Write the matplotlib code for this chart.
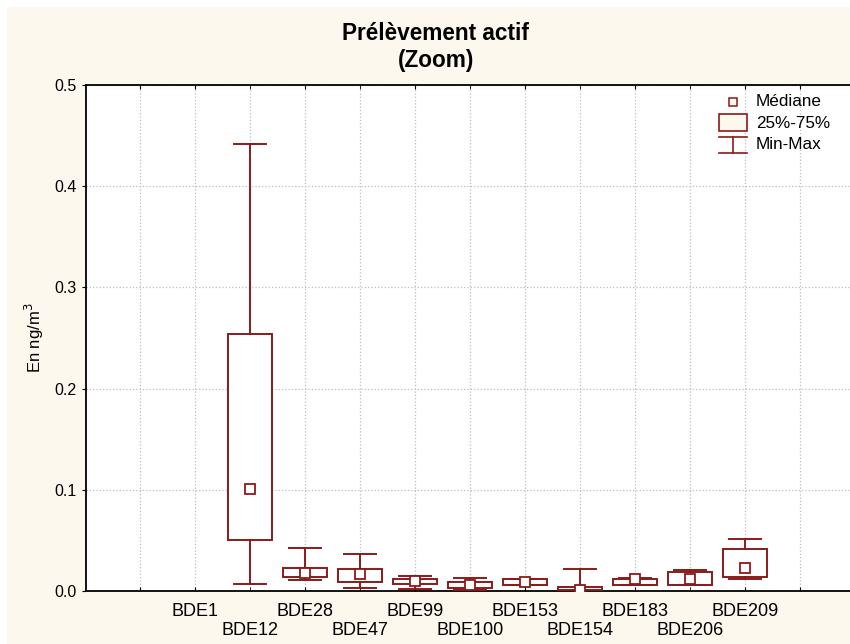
import matplotlib
matplotlib.use("Agg")
import matplotlib.pyplot as plt
from matplotlib.patches import Rectangle
from matplotlib.lines import Line2D

plt.rcParams['font.family'] = ['Liberation Sans', 'DejaVu Sans']

# congeneres et statistiques (ng/m3)
congeneres = ['BDE1', 'BDE12', 'BDE28', 'BDE47', 'BDE99', 'BDE100',
              'BDE153', 'BDE154', 'BDE183', 'BDE206', 'BDE209']
mediane = [None, 0.101, 0.018, 0.017, 0.0099, 0.0062, 0.0086, 0.0010, 0.0120, 0.0119, 0.023]
q25 = [None, 0.050, 0.0142, 0.0092, 0.0066, 0.0033, 0.0056, 0.0007, 0.0056, 0.0056, 0.0142]
q75 = [None, 0.254, 0.0224, 0.0220, 0.0119, 0.0092, 0.0115, 0.0043, 0.0115, 0.0184, 0.0418]
mini = [None, 0.007, 0.0105, 0.0033, 0.0020, 0.0010, 0.0056, 0.0000, 0.0056, 0.0056, 0.0115]
maxi = [None, 0.442, 0.0428, 0.0370, 0.0148, 0.0125, 0.0115, 0.0217, 0.0125, 0.0207, 0.0517]

rouge = '#8b1a1a'
creme = '#fdf8ee'

W, H = 850, 644
fig = plt.figure(figsize=(W / 100, H / 100), dpi=100)
fig.patch.set_facecolor('white')
fig.patches.append(Rectangle((7 / W, 0), 1, 1 - 7 / H, transform=fig.transFigure,
                             facecolor=creme, edgecolor='none', zorder=-10))

ax = fig.add_axes([86 / W, (H - 591) / H, (W - 86) / W, (591 - 85) / H])
ax.set_facecolor('white')

pos = list(range(1, len(congeneres) + 1))
stats, pos_ok = [], []
for p, me, a, b, lo, hi in zip(pos, mediane, q25, q75, mini, maxi):
    if me is None:
        continue
    stats.append(dict(med=me, q1=a, q3=b, whislo=lo, whishi=hi))
    pos_ok.append(p)

ax.bxp(stats, positions=pos_ok, widths=0.8, capwidths=0.57, showfliers=False,
       patch_artist=True,
       boxprops=dict(facecolor='white', edgecolor=rouge, linewidth=1.4),
       whiskerprops=dict(color=rouge, linewidth=1.4),
       capprops=dict(color=rouge, linewidth=1.4),
       medianprops=dict(visible=False), zorder=3)
ax.plot(pos_ok, [s['med'] for s in stats], 's', ms=7, mfc='white', mec=rouge,
        mew=1.3, zorder=4, linestyle='none')

ax.set_xlim(-0.98, 12.91)
ax.set_ylim(0, 0.5)
ax.set_yticks([0, 0.1, 0.2, 0.3, 0.4, 0.5])
ax.set_yticklabels(['0.0', '0.1', '0.2', '0.3', '0.4', '0.5'], fontsize=11.5)

# etiquettes sur deux rangees : impaires en haut, paires en bas
haut = [0] + pos[0::2] + [12]
bas = pos[1::2]
ax.set_xticks(haut)
ax.set_xticklabels([''] + congeneres[0::2] + [''], fontsize=13)
ax.set_xticks(bas, minor=True)
ax.set_xticklabels(congeneres[1::2], minor=True, fontsize=13)
ax.tick_params(axis='x', which='both', direction='in', length=3, top=True)
ax.tick_params(axis='x', which='major', pad=9)
ax.tick_params(axis='x', which='minor', pad=22)
ax.tick_params(axis='y', direction='out', length=3, pad=4)
ax.grid(True, which='both', color='#bdbdbd', linestyle=':', linewidth=0.9, zorder=0)
ax.set_axisbelow(True)
for s in ['left', 'bottom', 'top']:
    ax.spines[s].set_linewidth(1.3)
ax.spines['right'].set_visible(False)

ax.set_ylabel('En ng/m$^3$', fontsize=12, labelpad=6)
fig.text(436 / W, 1 - 47 / H, 'Prélèvement actif\n(Zoom)', ha='center', va='center',
         fontsize=16.3, fontweight='bold', linespacing=1.2)


# legende, placee en pixels de la figure
def px(x, y):
    return x / W, 1 - y / H


def trait(xa, ya, xb, yb):
    a, b = px(xa, ya), px(xb, yb)
    fig.add_artist(Line2D([a[0], b[0]], [a[1], b[1]], color=rouge, lw=1.2,
                          transform=fig.transFigure))


leg = [
    ('Médiane', 102),
    ('25%-75%', 123),
    ('Min-Max', 145),
]
mx, my = px(733, 102)
fig.add_artist(Line2D([mx], [my], marker='s', ms=6, mfc=creme, mec=rouge, mew=1.1,
                      linestyle='none', transform=fig.transFigure))
x0, y0 = px(719, 131)
x1, y1 = px(747, 114)
fig.add_artist(Rectangle((x0, y0), x1 - x0, y1 - y0, transform=fig.transFigure,
                         facecolor=creme, edgecolor=rouge, linewidth=1.2))
trait(719, 137, 747, 137)
trait(719, 153, 747, 153)
trait(733, 137, 733, 153)
for txt, yy in leg:
    fig.text(756 / W, 1 - yy / H, txt, fontsize=12.3, va='center', ha='left')

fig.savefig('out.png', dpi=100, facecolor='white')
